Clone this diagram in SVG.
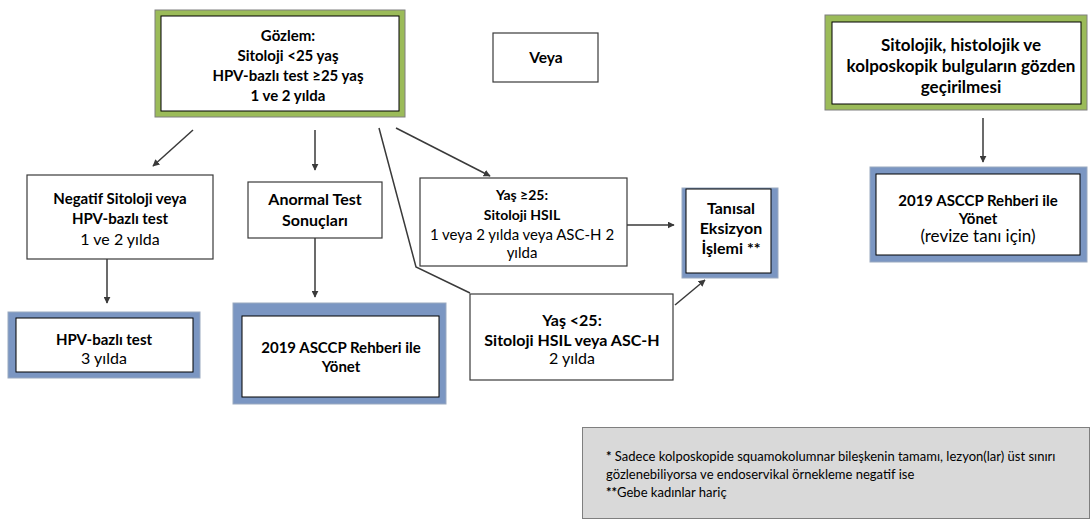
<svg xmlns="http://www.w3.org/2000/svg" width="1091" height="521" viewBox="0 0 1091 521">
<defs>
<marker id="ah" viewBox="0 0 10 10" refX="9" refY="5" markerWidth="7" markerHeight="7" orient="auto" markerUnits="userSpaceOnUse">
<path d="M0,0 L10,5 L0,10 z" fill="#3a3a3a"/>
</marker>
<style>
.t{font-family:Lato,"Liberation Sans",sans-serif;font-size:16px;fill:#000;text-anchor:middle}
.b{font-weight:bold;font-size:15px}
.box{fill:#fff;stroke:#000;stroke-width:1}
.box2{fill:#fff;stroke:#3a3a3a;stroke-width:1.2}
.green{fill:#9bbb59;stroke:#7f7f7f;stroke-width:1}
.blue{fill:#7b96c2;stroke:#9aa9c0;stroke-width:1}
.c{fill:none;stroke:#3a3a3a;stroke-width:1.5}
.fn{font-family:Lato,"Liberation Sans",sans-serif;font-size:13px;fill:#000}
</style>
</defs>
<rect width="1091" height="521" fill="#fff"/>

<g id="gozlem">
<rect class="green" x="155" y="10" width="250" height="107"/>
<rect class="box" x="161" y="16" width="238" height="95"/>
<text class="t b" x="288" y="41">Gözlem:</text>
<text class="t b" x="288" y="61">Sitoloji &lt;25 yaş</text>
<text class="t b" x="288" y="81">HPV-bazlı test ≥25 yaş</text>
<text class="t b" x="288" y="101">1 ve 2 yılda</text>
</g>

<g id="veya">
<rect class="box2" x="493" y="33" width="105" height="49"/>
<text class="t b" x="546" y="63" style="font-size:15.5px">Veya</text>
</g>

<g id="sitolojik">
<rect class="green" x="825" y="15" width="262" height="95"/>
<rect class="box" x="832" y="22" width="249" height="82"/>
<text class="t b" x="961" y="51" style="font-size:17px">Sitolojik, histolojik ve</text>
<text class="t b" x="961" y="72" style="font-size:17px">kolposkopik bulguların gözden</text>
<text class="t b" x="961" y="93" style="font-size:17px">geçirilmesi</text>
</g>

<g id="asccp-revize">
<rect class="blue" x="870" y="167" width="217" height="95"/>
<rect class="box" x="876" y="174" width="204" height="81"/>
<text class="t b" x="978" y="206">2019 ASCCP Rehberi ile</text>
<text class="t b" x="978" y="224">Yönet</text>
<text class="t" x="978" y="242" style="font-size:17px">(revize tanı için)</text>
</g>

<g id="negatif">
<rect class="box2" x="27" y="175" width="186" height="84"/>
<text class="t b" x="120" y="204">Negatif Sitoloji veya</text>
<text class="t b" x="120" y="224">HPV-bazlı test</text>
<text class="t" x="120" y="245">1 ve 2 yılda</text>
</g>

<g id="hpv3">
<rect class="blue" x="8" y="312" width="192" height="66"/>
<rect class="box" x="16" y="318" width="177" height="54"/>
<text class="t b" x="104" y="345">HPV-bazlı test</text>
<text class="t" x="104" y="364">3 yılda</text>
</g>

<g id="anormal">
<rect class="box2" x="248" y="182" width="134" height="56"/>
<text class="t b" x="315" y="205" style="font-size:16px">Anormal Test</text>
<text class="t b" x="315" y="226" style="font-size:16px">Sonuçları</text>
</g>

<g id="asccp">
<rect class="blue" x="233" y="303" width="213" height="101"/>
<rect class="box" x="242" y="316" width="197" height="81"/>
<text class="t b" x="341" y="353">2019 ASCCP Rehberi ile</text>
<text class="t b" x="341" y="372">Yönet</text>
</g>

<g id="yas25plus">
<rect class="box2" x="420" y="178" width="207" height="88"/>
<text class="t b" x="522" y="200" style="font-size:14px">Yaş ≥25:</text>
<text class="t b" x="522" y="220" style="font-size:14px">Sitoloji HSIL</text>
<text class="t" x="522" y="240" style="font-size:15px">1 veya 2 yılda veya ASC-H 2</text>
<text class="t" x="522" y="258" style="font-size:15px">yılda</text>
</g>

<g id="tanisal">
<rect class="blue" x="682" y="188" width="96" height="90"/>
<rect class="box" x="686" y="189" width="85" height="84"/>
<text class="t b" x="731" y="214" style="font-size:16px">Tanısal</text>
<text class="t b" x="731" y="234" style="font-size:16px">Eksizyon</text>
<text class="t b" x="731" y="254" style="font-size:16px">İşlemi **</text>
</g>

<g id="yas25minus">
<rect class="box2" x="470" y="294" width="203" height="86"/>
<text class="t b" x="572" y="326" style="font-size:16px">Yaş &lt;25:</text>
<text class="t b" x="572" y="346" style="font-size:16px">Sitoloji HSIL veya ASC-H</text>
<text class="t" x="572" y="364">2 yılda</text>
</g>

<g id="dipnot">
<rect x="582.5" y="427.5" width="507" height="91" fill="#d9d9d9" stroke="#7f7f7f" stroke-width="1"/>
<text class="fn" x="606" y="461"><tspan font-weight="bold">*</tspan> Sadece kolposkopide squamokolumnar bileşkenin tamamı, lezyon(lar) üst sınırı</text>
<text class="fn" x="606" y="479">gözlenebiliyorsa ve endoservikal örnekleme negatif ise</text>
<text class="fn" x="606" y="497"><tspan font-weight="bold">**</tspan>Gebe kadınlar hariç</text>
</g>

<g id="connectors">
<line class="c" x1="193" y1="130" x2="153" y2="166" marker-end="url(#ah)"/>
<line class="c" x1="315" y1="130" x2="315" y2="170" marker-end="url(#ah)"/>
<line class="c" x1="396" y1="128" x2="490" y2="176" marker-end="url(#ah)"/>
<polyline class="c" points="379,128 416,267 470,293"/>
<line class="c" x1="107" y1="259" x2="107" y2="303" marker-end="url(#ah)"/>
<line class="c" x1="315" y1="238" x2="315" y2="297" marker-end="url(#ah)"/>
<line class="c" x1="627" y1="225" x2="674" y2="225" marker-end="url(#ah)"/>
<line class="c" x1="675" y1="305" x2="705" y2="280" marker-end="url(#ah)"/>
<line class="c" x1="983" y1="118" x2="983" y2="162" marker-end="url(#ah)"/>
</g>
</svg>
